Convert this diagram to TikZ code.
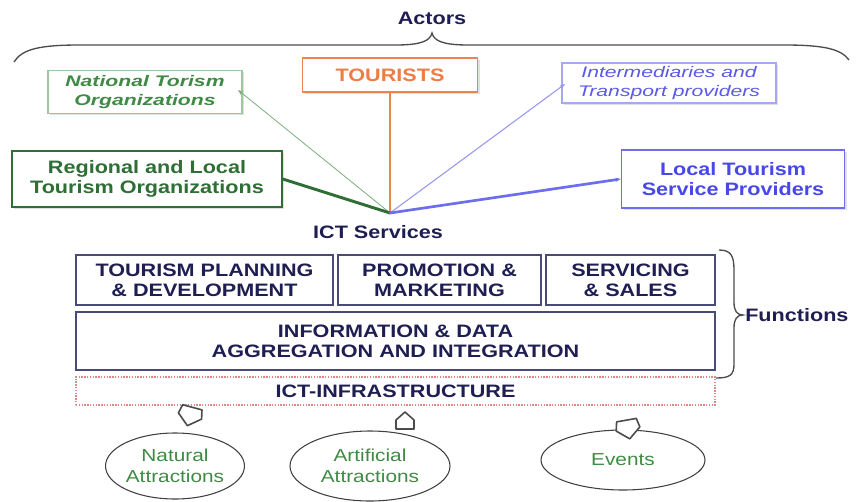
\documentclass[tikz,border=0pt]{standalone}
\usepackage{fontspec}
\setmainfont{Liberation Sans}[FakeStretch=1.2]
\newfontfamily\widesans{Liberation Sans}[FakeStretch=1.38]
\usetikzlibrary{shapes.geometric,shadows,arrows.meta}

\definecolor{navy}{HTML}{1E1E52}
\definecolor{frame}{HTML}{4A4A78}
\definecolor{dkgreen}{HTML}{2F6E34}
\definecolor{ltgreen}{HTML}{3F8A44}
\definecolor{paleg}{HTML}{9CC89E}
\definecolor{orng}{HTML}{EE7C45}
\definecolor{orngline}{HTML}{E9854F}
\definecolor{blu}{HTML}{4848E8}
\definecolor{lblu}{HTML}{5A5AE6}
\definecolor{paleb}{HTML}{A8A8F2}
\definecolor{infra}{HTML}{D88A8A}

\tikzset{
  txt/.style={font=\fontsize{13.5pt}{15pt}\selectfont\bfseries, align=center, inner sep=0pt},
  actorbox/.style={draw, fill=white, align=center, inner sep=0pt,
    drop shadow={shadow xshift=1.5pt, shadow yshift=-1.5pt, opacity=0.3, fill=black!40}},
  funcbox/.style={draw=frame, line width=1pt, txt, text=navy, inner sep=0pt},
  attraction/.style={ellipse, draw=black!75, line width=0.8pt, align=center,
    text=ltgreen, font=\fontsize{13pt}{16pt}\selectfont, inner sep=0pt},
  blockarrow/.style={draw=black!70, line width=1.2pt, fill=white, line join=round},
  link/.style={line cap=round},
  tip/.style={-{Stealth[length=4pt,width=3pt]}}
}

\begin{document}
\begin{tikzpicture}[x=0.75pt, y=-0.75pt]
  \useasboundingbox (0,0) rectangle (862,502);

  % Actors heading and brace
  \node[txt, text=navy] (actors) at (432,18) {Actors};
  \draw[black!70, line width=1pt]
    (14,62) .. controls (22,49) and (40,45) .. (80,45) -- (396,45)
    .. controls (421,45) and (430,41) .. (432,33)
    .. controls (434,41) and (443,45) .. (468,45) -- (784,45)
    .. controls (824,45) and (841,49) .. (849,60);

  % Actor boxes
  \node[actorbox, draw=paleg, line width=0.8pt, minimum width=194*0.75pt, minimum height=43*0.75pt,
        text=ltgreen, font=\widesans\fontsize{11.5pt}{14.5pt}\selectfont\bfseries\itshape]
        (nto) at (145,92) {National Torism\\Organizations};
  \node[actorbox, draw=orngline, line width=1.2pt, minimum width=175*0.75pt, minimum height=34*0.75pt,
        txt, text=orng] (tourists) at (390,75) {TOURISTS};
  \node[actorbox, draw=paleb, line width=0.8pt, minimum width=214*0.75pt, minimum height=40*0.75pt,
        text=lblu, font=\widesans\fontsize{11.5pt}{14.5pt}\selectfont\itshape]
        (inter) at (669,83) {Intermediaries and\\Transport  providers};
  \node[actorbox, draw=dkgreen, line width=1.1pt, minimum width=270*0.75pt, minimum height=56*0.75pt,
        txt, text=dkgreen] (regional) at (147,179) {Regional and Local\\Tourism Organizations};
  \node[actorbox, draw=blu!80, line width=1.1pt, minimum width=223*0.75pt, minimum height=58*0.75pt,
        txt, text=blu] (local) at (733,179) {Local Tourism\\Service Providers};

  % Hub where the actor links meet
  \coordinate (hub) at (390,213);
  \node[txt, text=navy] (ict) at (378,232) {ICT Services};

  \draw[link, tip, ltgreen!70, line width=0.6pt] (hub) -- (238,90);
  \draw[link, orngline, line width=1.8pt] (hub) -- (tourists.south);
  \draw[link, tip, paleb!90!blue, line width=0.8pt] (hub) -- (565,84);
  \draw[link, dkgreen, line width=2.2pt] (hub) -- (regional.east);
  \draw[link, tip, blu!80, line width=2pt] (hub) -- (local.west);

  % Function layers
  \node[funcbox, minimum width=257*0.75pt, minimum height=50*0.75pt] (plan) at (204.5,280)
        {TOURISM PLANNING\\\& DEVELOPMENT};
  \node[funcbox, minimum width=203*0.75pt, minimum height=50*0.75pt] (promo) at (439.5,280)
        {PROMOTION \&\\MARKETING};
  \node[funcbox, minimum width=169*0.75pt, minimum height=50*0.75pt] (serv) at (630.5,280)
        {SERVICING\\\& SALES};
  \node[funcbox, minimum width=639*0.75pt, minimum height=58*0.75pt] (info) at (395.5,341)
        {INFORMATION \& DATA\\AGGREGATION AND INTEGRATION};
  \node[draw=infra, densely dotted, line width=1.1pt, minimum width=639*0.75pt, minimum height=28*0.75pt,
        txt, text=navy] (infra) at (395.5,391) {ICT-INFRASTRUCTURE};

  % Functions brace
  \draw[black!70, line width=1pt]
    (719,250) .. controls (731,250) and (734,256) .. (734,270) -- (734,302)
    .. controls (734,311) and (737,315) .. (743,315)
    .. controls (737,315) and (734,319) .. (734,328) -- (734,364)
    .. controls (734,375) and (730,378) .. (716,378);
  \node[txt, text=navy, anchor=west] (functions) at (745,315) {Functions};

  % Attractions
  \node[attraction, minimum width=130*0.75pt, minimum height=66*0.75pt] (natural) at (175,466)
        {Natural\\Attractions};
  \node[attraction, minimum width=160*0.75pt, minimum height=70*0.75pt] (artificial) at (370,466)
        {Artificial\\Attractions};
  \node[attraction, minimum width=164*0.75pt, minimum height=60*0.75pt] (events) at (623,460)
        {Events};

  % Small block arrows between attractions and infrastructure
  \draw[blockarrow, rotate around={-15:(190,416)}]
    (180,407) -- (200,407) -- (202,416) -- (190,426) -- (178,416) -- cycle;
  \draw[blockarrow]
    (396,429) -- (414,429) -- (414,420) -- (405,412) -- (396,420) -- cycle;
  \draw[blockarrow, rotate around={10:(628,429)}]
    (618,420) -- (638,420) -- (640,429) -- (628,439) -- (616,429) -- cycle;
\end{tikzpicture}
\end{document}
